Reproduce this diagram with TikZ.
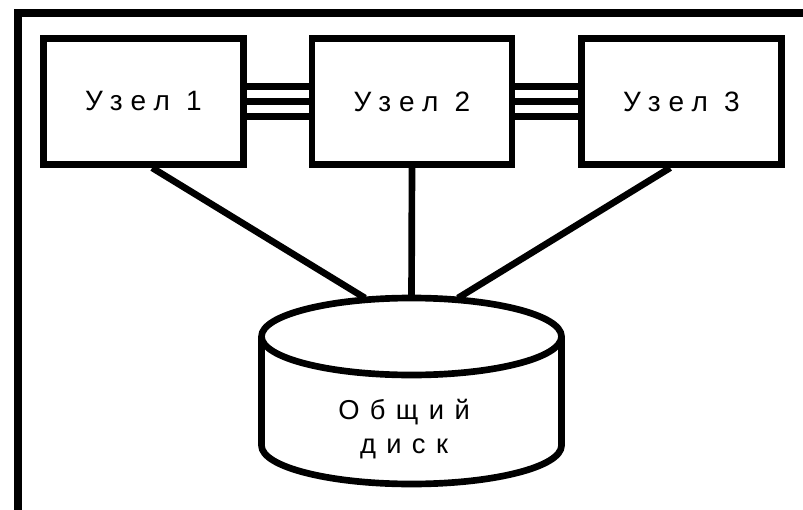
\documentclass[tikz,border=0pt]{standalone}
\usepackage{fontspec}
\setmainfont{Liberation Sans}
\newfontfamily\nodefont[LetterSpace=30]{Liberation Sans}
\newfontfamily\diskfont[LetterSpace=38]{Liberation Sans}
\begin{document}
\begin{tikzpicture}[x=0.75pt,y=0.75pt,yscale=-1,xscale=1,
  nodebox/.style={draw, line width=5pt, minimum width=150pt, minimum height=94.5pt, inner sep=0pt, font=\nodefont\fontsize{21}{25}\selectfont},
  link/.style={line width=5pt},
  disktext/.style={align=center, inner sep=0pt, font=\diskfont\fontsize{20.5}{26}\selectfont}]
\useasboundingbox (0,0) rectangle (803,510);

%Frame
\draw [line width=5.5pt] (803,13) -- (18,13) -- (18,510) ;

%Shape: Rectangle
\node [nodebox] (n1) at (143.5,101.5) {Узел 1};
%Shape: Rectangle
\node [nodebox] (n2) at (412,101.5) {Узел 2};
%Shape: Rectangle
\node [nodebox] (n3) at (681.5,101.5) {Узел 3};

%Straight Lines
\draw [link] ([yshift=-11.25pt]n1.east) -- ([yshift=-11.25pt]n2.west) ;
\draw [link] (n1.east) -- (n2.west) ;
\draw [link] ([yshift=11.25pt]n1.east) -- ([yshift=11.25pt]n2.west) ;
%Straight Lines
\draw [link] ([yshift=-11.25pt]n2.east) -- ([yshift=-11.25pt]n3.west) ;
\draw [link] (n2.east) -- (n3.west) ;
\draw [link] ([yshift=11.25pt]n2.east) -- ([yshift=11.25pt]n3.west) ;

\coordinate (dL) at (365,298) ;
\coordinate (dC) at (411.5,298) ;
\coordinate (dR) at (458,298) ;

%Straight Lines
\draw [link] ([xshift=6.5pt]n1.south) -- (dL) ;
\draw [link] (n2.south) -- (dC) ;
\draw [link] ([xshift=-8.5pt]n3.south) -- (dR) ;

%Shape: Can
\draw [line width=5pt] (261.5,336.5) -- (261.5,445.5) arc [start angle=180, end angle=0, x radius=150, y radius=38.5] -- (561.5,336.5) ;
\draw [line width=5pt, fill=white] (411.5,336.5) ellipse [x radius=150, y radius=38.5] ;

% Text Node
\node [disktext] (disk) at (404,429) {Общий\\диск};

\end{tikzpicture}
\end{document}
